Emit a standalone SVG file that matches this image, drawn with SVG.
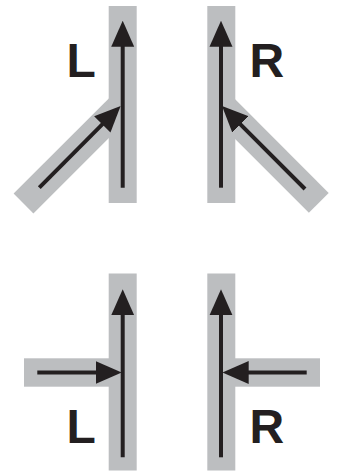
<svg xmlns="http://www.w3.org/2000/svg" width="339" height="471" viewBox="0 0 339 471">
<style>
.band{fill:#bcbec0;}
.bandl{stroke:#bcbec0;stroke-width:28;stroke-linecap:butt;fill:none;}
.arr{stroke:#231f20;stroke-width:4;fill:none;marker-end:url(#ah);}
.lbl{font-family:"Liberation Sans",Arial,sans-serif;font-weight:bold;font-size:48px;fill:#231f20;}
</style>
<defs>
<marker id="ah" markerUnits="userSpaceOnUse" viewBox="0 -12 26 24" markerWidth="26" markerHeight="24" refX="1" refY="0" orient="auto">
<path d="M0,-11.5 L26,0 L0,11.5 z" fill="#231f20"/>
</marker>
</defs>
<g id="panel-top-left">
<line class="bandl" x1="23.5" y1="203.5" x2="122.7" y2="104.3"/>
<rect class="band" x="108.7" y="6" width="28" height="197"/>
<text class="lbl" x="66.5" y="76.7">L</text>
</g>
<g id="panel-top-right">
<line class="bandl" x1="318.8" y1="202.8" x2="221" y2="105"/>
<rect class="band" x="207.3" y="6" width="28" height="197"/>
<text class="lbl" x="249.6" y="76.7">R</text>
</g>
<g id="panel-bottom-left">
<rect class="band" x="24" y="358.3" width="99" height="28.4"/>
<rect class="band" x="108.7" y="273.5" width="28" height="197"/>
<text class="lbl" x="66.5" y="442.7">L</text>
</g>
<g id="panel-bottom-right">
<rect class="band" x="221" y="358.3" width="99" height="28.4"/>
<rect class="band" x="207.3" y="273.5" width="28" height="197"/>
<text class="lbl" x="249.6" y="442.7">R</text>
</g>
<g id="connectors">
<line class="arr" x1="122.7" y1="187.7" x2="122.7" y2="45.7"/>
<line class="arr" x1="39.3" y1="187.7" x2="103" y2="123.7"/>
<line class="arr" x1="221" y1="187.7" x2="221" y2="45.7"/>
<line class="arr" x1="305" y1="189" x2="239.7" y2="123.7"/>
<line class="arr" x1="122.7" y1="457.3" x2="122.7" y2="314.3"/>
<line class="arr" x1="37.3" y1="372.5" x2="96.7" y2="372.5"/>
<line class="arr" x1="221" y1="457.3" x2="221" y2="314.3"/>
<line class="arr" x1="306.7" y1="372.5" x2="247.7" y2="372.5"/>
</g>
</svg>
